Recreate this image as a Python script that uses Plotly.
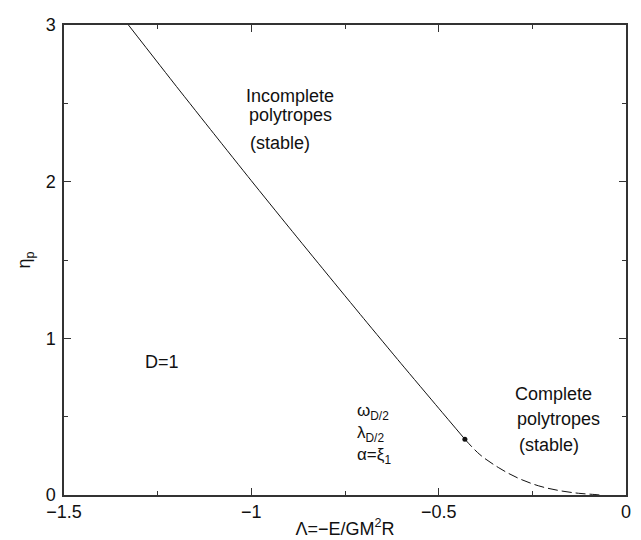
import plotly.graph_objects as go

# Solid branch: incomplete polytropes (stable)
solid_lambda = [-1.328, -1.2, -1.1, -1.0, -0.9, -0.8, -0.7, -0.6, -0.5, -0.43]
solid_eta = [3.0, 2.608, 2.306, 2.006, 1.710, 1.417, 1.126, 0.838, 0.554, 0.356]

# Dashed branch: complete polytropes (stable)
dashed_lambda = [-0.43, -0.39, -0.341, -0.29, -0.234, -0.18, -0.127, -0.083, -0.07]
dashed_eta = [0.356, 0.258, 0.176, 0.11, 0.059, 0.029, 0.011, 0.003, 0.0]

# Critical point
crit_lambda = [-0.43]
crit_eta = [0.356]

x_ticks = [-1.5, -1.0, -0.5, 0.0]
x_ticklabels = ["\u22121.5", "\u22121", "\u22120.5", "0"]
y_ticks = [0, 1, 2, 3]
y_ticklabels = ["0", "1", "2", "3"]

FONT = "Liberation Sans, Arial, Helvetica, sans-serif"
INK = "#111111"

fig = go.Figure()
fig.add_trace(go.Scatter(x=solid_lambda, y=solid_eta, mode="lines",
                         line=dict(color=INK, width=1, shape="spline", smoothing=0.6),
                         showlegend=False, hoverinfo="skip"))
fig.add_trace(go.Scatter(x=dashed_lambda, y=dashed_eta, mode="lines",
                         line=dict(color=INK, width=1, shape="spline", dash="10px,4px"),
                         showlegend=False, hoverinfo="skip"))
fig.add_trace(go.Scatter(x=crit_lambda, y=crit_eta, mode="markers",
                         marker=dict(color=INK, size=5),
                         showlegend=False, hoverinfo="skip"))

annotations = [
    ("Incomplete", -1.019, 2.549, 18),
    ("polytropes", -1.011, 2.428, 18),
    ("(stable)", -1.008, 2.249, 18),
    ("Complete", -0.301, 0.643, 18),
    ("polytropes", -0.296, 0.488, 18),
    ("(stable)", -0.290, 0.316, 18),
    ("D=1", -1.288, 0.852, 18),
    ("\u03c9<sub>D/2</sub>", -0.723, 0.530, 17),
    ("\u03bb<sub>D/2</sub>", -0.723, 0.388, 17),
    ("\u03b1=\u03be<sub>1</sub>", -0.723, 0.250, 17),
]
for text, ax, ay, fs in annotations:
    fig.add_annotation(x=ax, y=ay, xref="x", yref="y", text=text, showarrow=False,
                       xanchor="left", yanchor="middle",
                       font=dict(family=FONT, size=fs, color=INK))

axis_common = dict(
    showline=True, linecolor="#333333", linewidth=1.5, mirror="ticks",
    ticks="inside", ticklen=7, tickwidth=1, tickcolor="#333333",
    showgrid=False, zeroline=False,
    tickfont=dict(family=FONT, size=18, color=INK),
)

fig.update_xaxes(range=[-1.5, 0], tickvals=x_ticks, ticktext=x_ticklabels,
                 minor=dict(ticks="inside", dtick=0.25, ticklen=4, tickcolor="#333333"),
                 title=dict(text="\u039b=\u2212E/GM<sup>2</sup>R", standoff=1,
                            font=dict(family=FONT, size=18, color=INK)),
                 **axis_common)
fig.update_yaxes(range=[0, 3], tickvals=y_ticks, ticktext=y_ticklabels,
                 minor=dict(ticks="inside", dtick=0.5, ticklen=4, tickcolor="#333333"),
                 ticklabelstandoff=3,
                 title=dict(text="\u03b7<sub>p</sub>", standoff=10,
                            font=dict(family=FONT, size=18, color=INK)),
                 **axis_common)

fig.update_layout(width=641, height=540,
                  margin=dict(l=56, r=23, t=17, b=53, autoexpand=False),
                  plot_bgcolor="white", paper_bgcolor="white",
                  font=dict(family=FONT, color=INK))

fig.write_html("out.html")
